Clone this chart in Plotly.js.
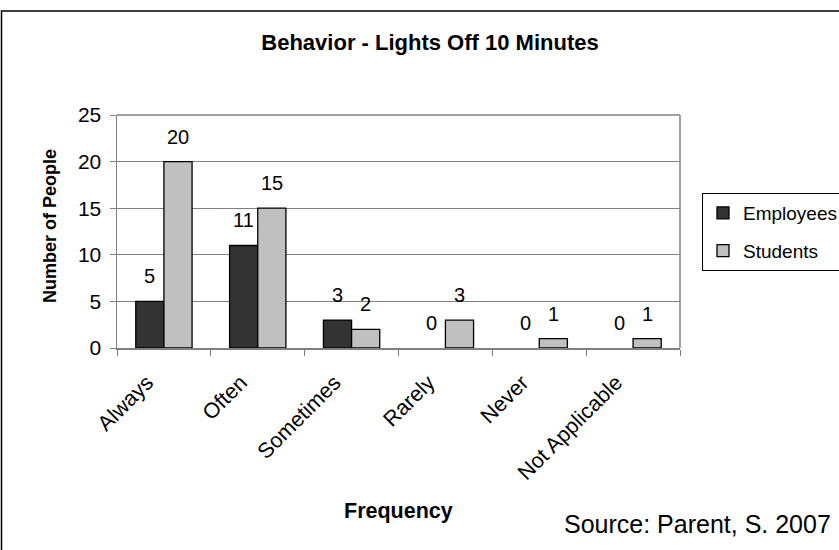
<!DOCTYPE html>
<html>
<head>
<meta charset="utf-8">
<script src="https://cdn.plot.ly/plotly-3.0.1.min.js"></script>
<style>
  html, body { margin: 0; padding: 0; background: #fff; }
  #chart { width: 839px; height: 550px; }
</style>
</head>
<body>
<div id="chart"></div>
<script>
// Survey answers: how often people switch the lights off when leaving for 10 minutes
const categories = ["Always", "Often", "Sometimes", "Rarely", "Never", "Not Applicable"];
const employees = [5, 11, 3, 0, 0, 0];
const students = [20, 15, 2, 3, 1, 1];
const yTicks = [0, 5, 10, 15, 20, 25];

const FONT = "Liberation Sans, Arial, sans-serif";
const BAR_W = 0.3;
// no outline on empty bars so nothing is drawn on the baseline for them
const outline = vals => vals.map(v => (v > 0 ? 1.3 : 0));

const traces = [
  {
    type: "bar", name: "Employees", x: categories, y: employees,
    width: BAR_W, offset: -BAR_W, legendgroup: "emp",
    marker: { color: "#333333", line: { color: "#000", width: outline(employees) } },
    hoverinfo: "skip"
  },
  {
    type: "bar", name: "Students", x: categories, y: students,
    width: BAR_W, offset: 0, legendgroup: "stu",
    marker: { color: "#c0c0c0", line: { color: "#000", width: outline(students) } },
    hoverinfo: "skip"
  }
];

// value labels above each bar
const LABEL_FONT = { family: FONT, size: 20, color: "#000" };
const annotations = [];
categories.forEach((c, i) => {
  annotations.push({ x: i - BAR_W / 2, y: employees[i], text: String(employees[i]),
    xref: "x", yref: "y", showarrow: false, yanchor: "bottom", yshift: 12, font: LABEL_FONT });
  annotations.push({ x: i + BAR_W / 2, y: students[i], text: String(students[i]),
    xref: "x", yref: "y", showarrow: false, yanchor: "bottom", yshift: 12, font: LABEL_FONT });
});

// plot area spans 117..680 px horizontally, 115..348 px vertically
const PL = 117, PR = 680, PT = 115, PB = 348;
const px = v => (v - PL) / (PR - PL);
const py = v => (PB - v) / (PB - PT);

annotations.push({ xref: "paper", yref: "paper", x: px(398), y: py(511), text: "<b>Frequency</b>",
  showarrow: false, xanchor: "center", yanchor: "middle",
  font: { family: FONT, size: 21.5, color: "#000" } });
annotations.push({ xref: "paper", yref: "paper", x: px(50), y: py(226), text: "<b>Number of People</b>",
  showarrow: false, textangle: -90, xanchor: "center", yanchor: "middle",
  font: { family: FONT, size: 18, color: "#000" } });
annotations.push({ xref: "paper", yref: "paper", x: px(562), y: py(524), text: "Source: Parent, S. 2007",
  showarrow: false, xanchor: "left", yanchor: "middle",
  font: { family: FONT, size: 25, color: "#000" } });

const layout = {
  width: 839, height: 550,
  margin: { l: PL, r: 839 - PR, t: PT, b: 550 - PB, autoexpand: false },
  paper_bgcolor: "#fff", plot_bgcolor: "#fff",
  font: { family: FONT, color: "#000" },
  title: { text: "<b>Behavior - Lights Off 10 Minutes</b>", x: 430 / 839, xanchor: "center",
    y: 1 - 42 / 550, yanchor: "middle", font: { family: FONT, size: 22, color: "#000" } },
  showlegend: true,
  legend: {
    x: px(702), y: py(193), xanchor: "left", yanchor: "top",
    bordercolor: "#000", borderwidth: 1, bgcolor: "#fff",
    tracegroupgap: 10, itemwidth: 30,
    font: { family: FONT, size: 19, color: "#000" }
  },
  xaxis: {
    type: "category", range: [-0.5, 5.5], fixedrange: true,
    showline: true, linecolor: "#808080", linewidth: 1.5, mirror: false,
    ticks: "outside", tickson: "boundaries", ticklen: 6, tickcolor: "#808080", tickwidth: 1,
    tickangle: -45, ticklabelshift: -17, ticklabelstandoff: 12,
    tickfont: { family: FONT, size: 21.5, color: "#000" },
    showgrid: false, zeroline: false
  },
  yaxis: {
    range: [0, 25], tickvals: yTicks, ticktext: yTicks.map(String), fixedrange: true,
    showline: true, linecolor: "#808080", linewidth: 1.5,
    ticks: "outside", ticklen: 6, tickcolor: "#808080", tickwidth: 1,
    ticklabelstandoff: 4,
    tickfont: { family: FONT, size: 21, color: "#000" },
    showgrid: true, gridcolor: "#808080", gridwidth: 1, zeroline: false
  },
  shapes: [
    // right and top edges of the plot frame
    { type: "line", xref: "paper", yref: "paper", x0: 1, x1: 1, y0: 0, y1: 1,
      line: { color: "#808080", width: 1.5 } },
    { type: "line", xref: "paper", yref: "paper", x0: 0, x1: 1, y0: 1, y1: 1,
      line: { color: "#808080", width: 1.5 } },
    // outer chart border
    { type: "rect", xref: "paper", yref: "paper",
      x0: px(1.5), x1: px(845), y0: py(560), y1: py(11),
      line: { color: "#000", width: 1.5 }, fillcolor: "rgba(0,0,0,0)", layer: "below" }
  ],
  annotations: annotations,
  bargap: 0.4
};

Plotly.newPlot("chart", traces, layout, { displayModeBar: false, staticPlot: true });
</script>
</body>
</html>
